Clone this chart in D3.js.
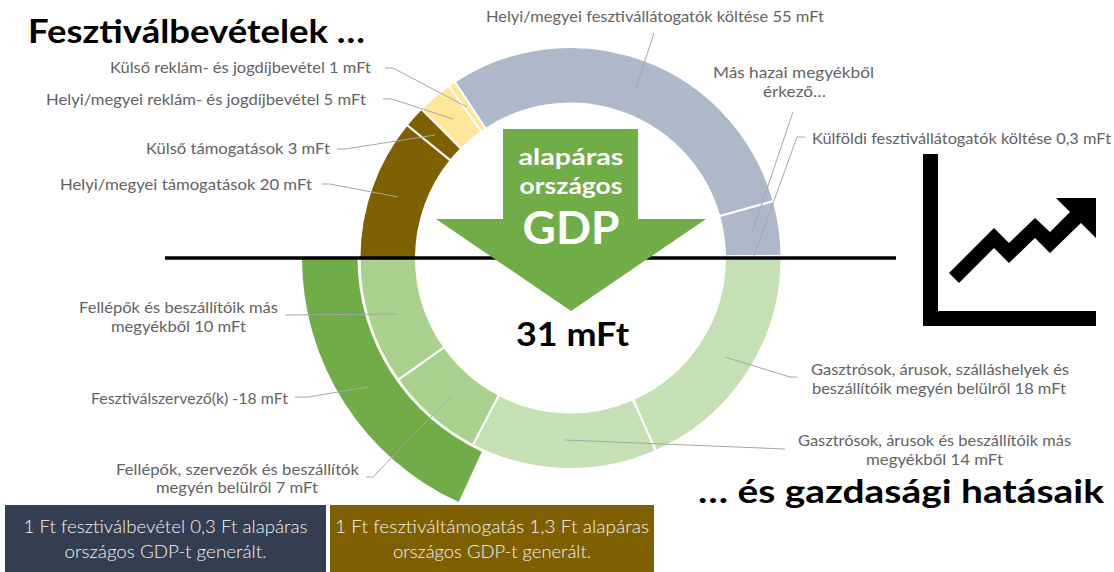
<!DOCTYPE html>
<html>
<head>
<meta charset="utf-8">
<script src="https://cdn.jsdelivr.net/npm/d3@7"></script>
<style>
  html, body { margin: 0; padding: 0; background: #fff; }
  svg { display: block; }
  text { font-family: Lato, "Open Sans", sans-serif; }
</style>
</head>
<body>
<svg></svg>
<script>
const width = 1114;
const height = 572;

// upper half of the ring: revenues (mFt)
const revenueNames = ['Helyi/megyei támogatások', 'Külső támogatások', 'Helyi/megyei reklám- és jogdíjbevétel',
    'Külső reklám- és jogdíjbevétel', 'Helyi/megyei fesztivállátogatók költése', 'Más hazai megyékből érkező',
    'Külföldi fesztivállátogatók költése'];
const revenueValues = [20, 3, 5, 1, 55, 7.7, 0.3];
const revenueColors = ['#7f6000', '#7f6000', '#ffe699', '#ffe699', '#adb9ca', '#adb9ca', '#adb9ca'];

// lower half of the ring: effects (mFt)
const effectNames = ['Fellépők és beszállítóik más megyékből', 'Fellépők, szervezők és beszállítók megyén belülről',
    'Gasztrósok, árusok és beszállítóik más megyékből', 'Gasztrósok, árusok, szálláshelyek és beszállítóik megyén belülről'];
const effectValues = [9.6, 7.4, 14, 18];
const effectColors = ['#a9d18e', '#a9d18e', '#c5e0b4', '#c5e0b4'];

// outer band, the negative item
const organizerValue = 17.8;

// text, anchor x, centre y, width on the page
const labels = [
    ['Helyi/megyei fesztivállátogatók költése 55 mFt', 486, 17, 338],
    ['Más hazai megyékből', 713, 73, 161],
    ['érkező…', 763, 92, 63],
    ['Külföldi fesztivállátogatók költése 0,3 mFt', 812, 139, 299],
    ['Külső reklám- és jogdíjbevétel 1 mFt', 110, 68, 261],
    ['Helyi/megyei reklám- és jogdíjbevétel 5 mFt', 46, 100, 320],
    ['Külső támogatások 3 mFt', 146, 149, 184],
    ['Helyi/megyei támogatások 20 mFt', 60, 185, 252],
    ['Fellépők és beszállítóik más', 79, 308, 199],
    ['megyékből 10 mFt', 111, 327, 135],
    ['Fesztiválszervező(k) -18 mFt', 91, 399, 197],
    ['Fellépők, szervezők és beszállítók', 116, 470, 243],
    ['megyén belülről 7 mFt', 156, 488, 162],
    ['Gasztrósok, árusok, szálláshelyek és', 811, 370, 258],
    ['beszállítóik megyén belülről 18 mFt', 812, 389, 254],
    ['Gasztrósok, árusok és beszállítóik más', 798, 441, 273],
    ['megyékből 14 mFt', 866, 460, 137]
];

const leaders = [
    [[654, 33], [636, 88]],
    [[793, 112], [752, 233]],
    [[805, 137], [797, 137], [754, 256]],
    [[385, 68], [393, 68], [467, 107]],
    [[383, 99], [392, 99], [453, 119]],
    [[337, 149], [345, 149], [435, 135]],
    [[322, 184], [330, 184], [398, 197]],
    [[285, 315], [396, 314]],
    [[295, 397], [308, 397], [368, 387]],
    [[366, 477], [373, 477], [451, 396]],
    [[797, 377], [790, 377], [725, 357]],
    [[785, 449], [565, 440]]
];

const center = [570.5, 258];
const innerR = 154.5;
const outerR = 211;

const svg = d3.select('svg').attr('width', width).attr('height', height);

drawRing();
drawDivider();
drawLeaders();
drawLabels();
drawArrow();
drawTitles();
drawBoxes();
drawIcon();

function drawRing() {
    const ring = svg.append('g').attr('transform', `translate(${center})`);
    const arc = d3.arc().innerRadius(innerR).outerRadius(outerR);
    const topPie = d3.pie().sort(null).startAngle(-Math.PI / 2).endAngle(Math.PI / 2);
    const bottomPie = d3.pie().sort(null).startAngle(Math.PI * 1.5).endAngle(Math.PI / 2);

    ring.selectAll('.revenue')
        .data(topPie(revenueValues))
        .enter().append('path')
        .attr('class', 'revenue')
        .attr('d', arc)
        .attr('fill', (d, i) => revenueColors[i])
        .attr('stroke', '#fff')
        .attr('stroke-width', 2);

    ring.selectAll('.effect')
        .data(bottomPie(effectValues))
        .enter().append('path')
        .attr('class', 'effect')
        .attr('d', arc)
        .attr('fill', (d, i) => effectColors[i])
        .attr('stroke', '#fff')
        .attr('stroke-width', 2);

    // same unit as the lower half
    const angle = d3.scaleLinear()
        .domain([0, d3.sum(effectValues)])
        .range([Math.PI * 1.5, Math.PI / 2]);
    ring.append('path')
        .attr('d', d3.arc()({
            innerRadius: outerR + 2,
            outerRadius: 268.5,
            startAngle: angle(0),
            endAngle: angle(organizerValue)
        }))
        .attr('fill', '#70ad47');
}

function drawDivider() {
    svg.append('line')
        .attr('x1', 165).attr('x2', 896)
        .attr('y1', 258).attr('y2', 258)
        .attr('stroke', '#000')
        .attr('stroke-width', 3.6);
}

function drawLeaders() {
    const line = d3.line();
    svg.selectAll('.leader')
        .data(leaders)
        .enter().append('path')
        .attr('class', 'leader')
        .attr('d', line)
        .attr('fill', 'none')
        .attr('stroke', '#a6a6a6')
        .attr('stroke-width', 1);
}

function drawLabels() {
    svg.selectAll('.label')
        .data(labels)
        .enter().append('text')
        .attr('class', 'label')
        .attr('x', d => d[1])
        .attr('y', d => d[2])
        .attr('dy', '0.35em')
        .attr('textLength', d => d[3])
        .attr('lengthAdjust', 'spacingAndGlyphs')
        .style('font-size', '15px')
        .style('fill', '#636363')
        .text(d => d[0]);
}

function drawArrow() {
    svg.append('polygon')
        .attr('points', '503,129 638,129 638,219 706,219 571,311 436,219 503,219')
        .attr('fill', '#70ad47');
    const words = [['alapáras', 157, 23, 105], ['országos', 186, 23, 103], ['GDP', 228, 46, 97]];
    svg.selectAll('.arrowText')
        .data(words)
        .enter().append('text')
        .attr('class', 'arrowText')
        .attr('x', 571)
        .attr('y', d => d[1])
        .attr('dy', '0.35em')
        .attr('text-anchor', 'middle')
        .attr('textLength', d => d[3])
        .attr('lengthAdjust', 'spacingAndGlyphs')
        .style('font-size', d => d[2] + 'px')
        .style('font-weight', 700)
        .style('fill', '#fff')
        .text(d => d[0]);
}

function drawTitles() {
    const titles = [
        ['Fesztiválbevételek …', 28, 43, 337, 33],
        ['… és gazdasági hatásaik', 698, 503, 406, 33],
        ['31 mFt', 516, 346, 113, 33]
    ];
    svg.selectAll('.title')
        .data(titles)
        .enter().append('text')
        .attr('class', 'title')
        .attr('x', d => d[1])
        .attr('y', d => d[2])
        .attr('textLength', d => d[3])
        .attr('lengthAdjust', 'spacingAndGlyphs')
        .style('font-size', d => d[4] + 'px')
        .style('font-weight', 700)
        .style('fill', '#000')
        .text(d => d[0]);
}

function drawBoxes() {
    const boxes = [
        { x: 5, w: 321, fill: '#333f50', lines: [['1 Ft fesztiválbevétel 0,3 Ft alapáras', 284], ['országos GDP-t generált.', 202]] },
        { x: 330, w: 324, fill: '#7f6000', lines: [['1 Ft fesztiváltámogatás 1,3 Ft alapáras', 314], ['országos GDP-t generált.', 198]] }
    ];
    boxes.forEach(b => {
        svg.append('rect')
            .attr('x', b.x).attr('y', 505)
            .attr('width', b.w).attr('height', 67)
            .attr('fill', b.fill);
        b.lines.forEach((l, i) => {
            svg.append('text')
                .attr('x', b.x + b.w / 2)
                .attr('y', 527 + i * 25)
                .attr('dy', '0.35em')
                .attr('text-anchor', 'middle')
                .attr('textLength', l[1])
                .attr('lengthAdjust', 'spacingAndGlyphs')
                .style('font-size', '17px')
                .style('font-weight', 300)
                .style('fill', '#f2f2f2')
                .text(l[0]);
        });
    });
}

function drawIcon() {
    const icon = svg.append('g').attr('fill', '#000');
    icon.append('polygon')
        .attr('points', '923,154 938,154 938,311 1096,311 1096,326 923,326');
    icon.append('polygon')
        .attr('points', '949,273 994,228 1009,243 1035,218 1050,232 1070,212 1056,198 1096,198 1096,238 1081,223 1050,253 1035,238 1009,263 994,248 959,283');
}
</script>
</body>
</html>
